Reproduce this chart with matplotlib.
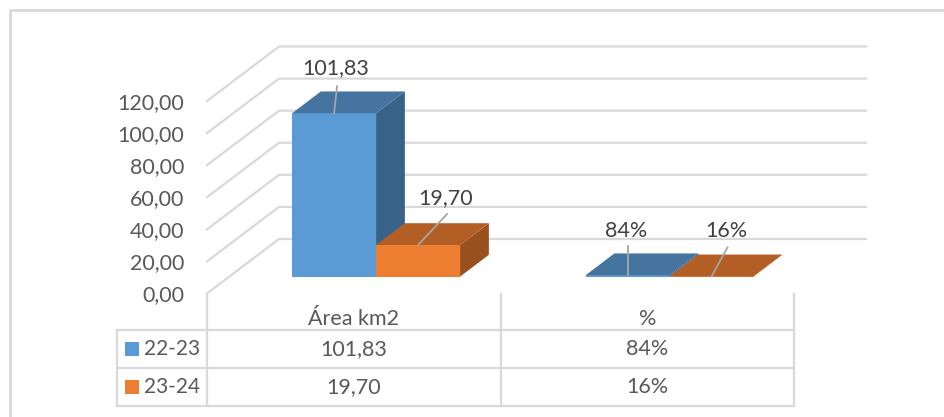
import matplotlib
matplotlib.use("Agg")
import matplotlib.pyplot as plt
from matplotlib.patches import Polygon, Rectangle

W, H = 945, 417

categories = ["Área km2", "%"]
series_names = ["22-23", "23-24"]
serie_2223 = [101.83, 0.84]
serie_2324 = [19.70, 0.16]
labels_2223 = ["101,83", "84%"]
labels_2324 = ["19,70", "16%"]
y_ticks = [0, 20, 40, 60, 80, 100, 120]
y_tick_labels = ["0,00", "20,00", "40,00", "60,00", "80,00", "100,00", "120,00"]

GRID = "#d9d9d9"
TXT = "#595959"
TXT_DARK = "#404040"
FONT = ["Lato", "DejaVu Sans"]
FS = 15.5

# mau 3 mat cua cot: truoc, tren, canh
BLUE = ("#5b9bd5", "#4574a1", "#386389")
ORANGE = ("#ed7d31", "#b35e25", "#98501f")

plt.rcParams["font.family"] = FONT


def to_fig(x0, y0, x1, y1):
    return [x0 / W, 1 - y1 / H, (x1 - x0) / W, (y1 - y0) / H]


fig = plt.figure(figsize=(W / 100, H / 100), dpi=100, facecolor="white")

# lop nen theo pixel: khung ngoai + bang
bg = fig.add_axes([0, 0, 1, 1])
bg.set_xlim(0, W)
bg.set_ylim(H, 0)
bg.axis("off")

# mat phang truoc: x = nhom, y = gia tri
ax = fig.add_axes(to_fig(207, 101, 794, 293.5))
ax.set_xlim(-0.5, 1.5)
ax.set_ylim(0, 120)
ax.patch.set_visible(False)
for s in ax.spines.values():
    s.set_visible(False)

# do sau gia 3D, doi ra don vi du lieu
DX = 72 / 293.5
DY = 54.5 / (192.5 / 120)

for v in y_ticks:
    ax.plot([-0.5, -0.5 + DX, 1.5 + DX], [v, v + DY, v + DY],
            color=GRID, lw=1.6, clip_on=False, zorder=1)

ax.set_yticks(y_ticks)
ax.set_yticklabels(y_tick_labels, color=TXT, fontsize=FS)
ax.tick_params(axis="y", length=0, pad=16.5)
ax.set_xticks(range(len(categories)))
ax.set_xticklabels(categories, color=TXT, fontsize=FS)
ax.tick_params(axis="x", length=0, pad=11.5)

BAR_W = 84 / 293.5
D_START = 0.31
D_LEN = 0.40


def bar3d(x0, val, colors, z):
    w = BAR_W
    ox, oy = DX * D_START, DY * D_START
    bx, by = DX * D_LEN, DY * D_LEN
    xl, xr = x0 + ox, x0 + ox + w
    yb, yt = oy, oy + val
    side = [(xr, yb), (xr + bx, yb + by), (xr + bx, yt + by), (xr, yt)]
    top = [(xl, yt), (xr, yt), (xr + bx, yt + by), (xl + bx, yt + by)]
    front = [(xl, yb), (xr, yb), (xr, yt), (xl, yt)]
    ax.add_patch(Polygon(side, fc=colors[2], ec="none", clip_on=False, zorder=z))
    ax.add_patch(Polygon(front, fc=colors[0], ec="none", clip_on=False, zorder=z))
    ax.add_patch(Polygon(top, fc=colors[1], ec="none", clip_on=False, zorder=z))


def label(x0, val, text, lead, text_off, z=8):
    # duong dan tu mat tren cot toi nhan
    cx = x0 + DX * D_START + BAR_W / 2
    cy = DY * D_START + val
    ax.plot([cx + lead[0] / 293.5, cx + lead[2] / 293.5],
            [cy + lead[1] / 1.604, cy + lead[3] / 1.604],
            color="#a6a6a6", lw=1.3, clip_on=False, zorder=z)
    ax.text(cx + text_off[0] / 293.5, cy + text_off[1] / 1.604, text, color=TXT_DARK,
            fontsize=FS, ha="center", va="center", clip_on=False, zorder=z)


for i in range(len(categories)):
    x_left = i - 0.5 + (0.5 - BAR_W)
    x_right = x_left + BAR_W
    bar3d(x_left, serie_2223[i], BLUE, 3)
    bar3d(x_right, serie_2324[i], ORANGE, 4)

label(-0.5 + 0.5 - BAR_W, serie_2223[0], labels_2223[0], (0, 0, 3, 27), (2, 45))
label(-0.5 + 0.5, serie_2324[0], labels_2324[0], (0, 0, 29, 31), (28, 47))
label(0.5 + 0.5 - BAR_W, serie_2223[1], labels_2223[1], (0, 0, 0, 29), (-1, 44))
label(0.5 + 0.5, serie_2324[1], labels_2324[1], (0, 0, 16, 29), (15, 45))

# khung ngoai: chi co canh trai va canh tren
bg.plot([10, 10, W], [H, 10, 10], color=GRID, lw=2, clip_on=True)

# bang du lieu
TABLE_X = [117, 207, 500.5, 794]
TABLE_Y = [330.3, 368.3, 406.3]
for yy in TABLE_Y:
    bg.plot([TABLE_X[0], TABLE_X[-1]], [yy, yy], color=GRID, lw=1.6)
bg.plot([TABLE_X[0], TABLE_X[0]], [TABLE_Y[0], TABLE_Y[-1]], color=GRID, lw=1.6)
for xx in TABLE_X[1:]:
    bg.plot([xx, xx], [293.5, TABLE_Y[-1]], color=GRID, lw=1.6)

rows = [(labels_2223, BLUE[0]), (labels_2324, ORANGE[0])]
for r, (vals, col) in enumerate(rows):
    yc = (TABLE_Y[r] + TABLE_Y[r + 1]) / 2
    bg.add_patch(Rectangle((125, yc - 7), 14, 14, fc=col, ec="none"))
    bg.text(144, yc, series_names[r], color=TXT, fontsize=15, ha="left", va="center")
    for c in range(2):
        bg.text((TABLE_X[c + 1] + TABLE_X[c + 2]) / 2, yc, vals[c], color=TXT,
                fontsize=FS, ha="center", va="center")

fig.savefig("out.png", dpi=100)
plt.close(fig)
